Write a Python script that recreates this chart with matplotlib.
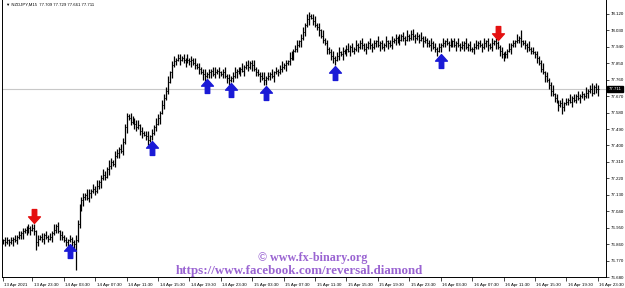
import matplotlib
matplotlib.use("Agg")
import matplotlib.pyplot as plt
import matplotlib.transforms as mtransforms
from matplotlib.path import Path
import numpy as np

# ---------------- data ----------------
closes = [
    76.88, 76.87, 76.88, 76.87, 76.88, 76.89, 76.88, 76.90, 76.91, 76.92, 76.93, 76.94, 76.93, 76.95, 76.94,
    76.95, 76.93, 76.87, 76.89, 76.90, 76.89, 76.91, 76.90, 76.89, 76.90, 76.92, 76.94, 76.96, 76.93, 76.91, 76.90,
    76.88, 76.87, 76.88, 76.89, 76.87, 76.86, 76.88, 76.97, 77.05, 77.10, 77.12, 77.13, 77.11, 77.14, 77.15, 77.16,
    77.15, 77.18, 77.20, 77.22, 77.24, 77.23, 77.27, 77.29, 77.31, 77.30, 77.34, 77.36, 77.38, 77.37, 77.42, 77.50,
    77.56, 77.55, 77.53, 77.54, 77.52, 77.50, 77.51, 77.48, 77.47, 77.46, 77.45, 77.43, 77.45, 77.47, 77.50, 77.52,
    77.55, 77.58, 77.62, 77.66, 77.70, 77.75, 77.80, 77.84, 77.86, 77.87, 77.88, 77.87, 77.88, 77.87, 77.86, 77.87,
    77.86, 77.87, 77.85, 77.84, 77.83, 77.82, 77.80, 77.79, 77.78, 77.79, 77.80, 77.81, 77.79, 77.80, 77.81, 77.80,
    77.79, 77.80, 77.78, 77.77, 77.76, 77.77, 77.78, 77.80, 77.81, 77.80, 77.82, 77.81, 77.83, 77.84, 77.83, 77.85,
    77.84, 77.82, 77.80, 77.79, 77.78, 77.77, 77.76, 77.77, 77.78, 77.79, 77.78, 77.80, 77.81, 77.80, 77.82, 77.83,
    77.84, 77.85, 77.86, 77.88, 77.90, 77.92, 77.93, 77.95, 77.97, 77.99, 78.02, 78.06, 78.09, 78.11, 78.10, 78.08,
    78.06, 78.05, 78.03, 78.00, 77.98, 77.96, 77.93, 77.91, 77.89, 77.88, 77.87, 77.89, 77.91, 77.90, 77.92, 77.91,
    77.93, 77.92, 77.94, 77.92, 77.93, 77.95, 77.94, 77.96, 77.95, 77.93, 77.94, 77.96, 77.95, 77.94, 77.96, 77.97,
    77.95, 77.96, 77.94, 77.95, 77.97, 77.96, 77.95, 77.97, 77.98, 77.99, 77.97, 77.98, 78.00, 77.99, 77.98, 78.00,
    77.99, 78.01, 78.00, 77.99, 78.00, 77.98, 77.99, 77.97, 77.98, 77.96, 77.95, 77.96, 77.94, 77.93, 77.92, 77.94,
    77.95, 77.96, 77.97, 77.96, 77.95, 77.96, 77.97, 77.95, 77.96, 77.95, 77.94, 77.95, 77.96, 77.94, 77.95, 77.93,
    77.93, 77.94, 77.95, 77.96, 77.95, 77.94, 77.96, 77.97, 77.95, 77.94, 77.96, 77.97, 77.96, 77.94, 77.92, 77.90,
    77.89, 77.90, 77.92, 77.93, 77.95, 77.96, 77.97, 77.98, 77.99, 77.97, 77.96, 77.95, 77.94, 77.93, 77.92, 77.91,
    77.90, 77.88, 77.85, 77.82, 77.80, 77.78, 77.76, 77.73, 77.70, 77.68, 77.66, 77.64, 77.62, 77.63, 77.61, 77.63,
    77.64, 77.65, 77.64, 77.66, 77.65, 77.67, 77.66, 77.67, 77.68, 77.67, 77.69, 77.70, 77.71, 77.69, 77.72, 77.709, 77.711,
]
first_open = 76.88

# wick extensions beyond the bar body, in pips (0.01)
upper_wick = [
    1, 2, 2, 1, 2, 1, 2, 1, 2, 1, 2, 1, 2, 2, 1,
    2, 2, 1, 2, 1, 2, 1, 2, 1, 2, 1, 3, 1, 2, 1, 2,
    1, 2, 1, 2, 1, 1, 3, 2, 3, 2, 2, 1, 3, 2, 1, 3,
    2, 3, 1, 2, 3, 2, 1, 3, 2, 1, 3, 2, 1, 3, 2, 2,
    2, 1, 3, 2, 1, 2, 3, 1, 2, 1, 2, 3, 1, 2, 1, 3,
    2, 1, 3, 2, 2, 3, 1, 2, 3, 1, 2, 2, 1, 2, 1, 3,
    1, 2, 1, 3, 1, 2, 1, 2, 3, 1, 2, 1, 2, 3, 1, 2,
    1, 2, 3, 1, 2, 1, 2, 3, 1, 2, 1, 3, 1, 2, 3, 1,
    2, 3, 1, 2, 1, 2, 3, 1, 2, 1, 3, 1, 2, 1, 2, 3,
    1, 2, 1, 3, 2, 1, 2, 3, 1, 2, 3, 1, 3, 2, 1, 2,
    3, 1, 2, 1, 3, 1, 2, 1, 2, 3, 1, 2, 3, 1, 2, 1,
    2, 3, 1, 2, 1, 3, 1, 2, 3, 1, 2, 1, 3, 1, 2, 1,
    3, 1, 2, 1, 3, 1, 2, 3, 1, 2, 1, 3, 1, 2, 1, 3,
    1, 2, 3, 1, 2, 1, 3, 1, 2, 1, 2, 3, 1, 2, 1, 2,
    1, 3, 1, 2, 1, 3, 1, 2, 1, 3, 1, 2, 1, 3, 1, 2,
    1, 2, 3, 1, 2, 1, 3, 1, 2, 1, 3, 1, 2, 1, 1, 2,
    1, 2, 1, 3, 1, 2, 1, 3, 1, 4, 1, 2, 1, 3, 1, 2,
    1, 2, 1, 2, 3, 1, 2, 1, 2, 3, 1, 2, 1, 2, 3, 1,
    2, 1, 3, 1, 2, 1, 3, 1, 2, 1, 3, 1, 2, 3, 1, 2, 2,
]
lower_wick = [
    2, 2, 1, 2, 1, 3, 1, 2, 1, 2, 3, 1, 2, 1, 3,
    1, 2, 4, 2, 1, 2, 3, 1, 2, 1, 3, 1, 2, 1, 3, 2,
    1, 2, 3, 1, 2, 3, 14, 1, 2, 1, 3, 2, 1, 2, 3, 1,
    2, 1, 2, 3, 1, 2, 1, 3, 2, 1, 2, 1, 3, 1, 2, 1,
    3, 1, 2, 1, 3, 2, 1, 2, 3, 1, 2, 3, 1, 2, 1, 2,
    1, 3, 1, 2, 1, 2, 1, 3, 1, 2, 1, 3, 1, 2, 3, 1,
    2, 3, 1, 2, 1, 3, 1, 3, 4, 1, 2, 3, 1, 2, 1, 3,
    1, 2, 1, 3, 3, 1, 2, 1, 3, 1, 2, 1, 3, 1, 2, 1,
    3, 1, 2, 1, 3, 1, 3, 3, 1, 2, 1, 3, 1, 2, 1, 2,
    1, 3, 1, 2, 1, 3, 1, 2, 1, 3, 1, 2, 1, 3, 1, 2,
    1, 2, 3, 1, 2, 1, 3, 1, 2, 3, 3, 1, 2, 1, 3, 1,
    2, 1, 3, 1, 2, 1, 3, 1, 2, 1, 3, 1, 2, 3, 1, 2,
    1, 3, 1, 2, 1, 3, 1, 2, 1, 3, 1, 2, 1, 2, 3, 1,
    2, 1, 2, 3, 1, 2, 1, 3, 1, 2, 1, 3, 1, 2, 3, 1,
    3, 1, 2, 1, 3, 1, 2, 1, 3, 1, 2, 1, 3, 1, 2, 1,
    2, 3, 1, 2, 1, 3, 1, 2, 3, 1, 2, 1, 3, 1, 3, 2,
    3, 1, 2, 1, 3, 1, 2, 1, 2, 3, 1, 2, 3, 1, 2, 1,
    2, 3, 1, 2, 1, 3, 1, 2, 3, 1, 2, 1, 3, 1, 4, 2,
    1, 2, 1, 3, 1, 2, 1, 3, 1, 2, 1, 3, 1, 2, 1, 2, 4,
]

buy_signals = [34, 76, 104, 116, 134, 169, 223]
sell_signals = [16, 252]

current_price = 77.711
title_text = "\u25bc NZDJPY,M15  77.709 77.729 77.661 77.711"

ytick_vals = [76.680, 76.770, 76.860, 76.950, 77.040, 77.130, 77.220, 77.310, 77.400,
              77.490, 77.580, 77.670, 77.760, 77.850, 77.940, 78.030, 78.120]
xtick_pos = [0] + [15 + 16 * k for k in range(19)]
xtick_labels = ["13 Apr 2021", "13 Apr 23:30", "14 Apr 03:30", "14 Apr 07:30", "14 Apr 11:30",
                "14 Apr 15:30", "14 Apr 19:30", "14 Apr 23:30", "15 Apr 03:30", "15 Apr 07:30",
                "15 Apr 11:30", "15 Apr 15:30", "15 Apr 19:30", "15 Apr 23:30", "16 Apr 03:30",
                "16 Apr 07:30", "16 Apr 11:30", "16 Apr 15:30", "16 Apr 19:30", "16 Apr 23:30"]

watermark1 = "\u00a9 www.fx-binary.org"
watermark2 = "https://www.facebook.com/reversal.diamond"

# ---------------- derived OHLC ----------------
c = np.array(closes)
o = np.concatenate([[first_open], c[:-1]])
hi = np.maximum(o, c) + np.array(upper_wick) * 0.01
lo = np.minimum(o, c) - np.array(lower_wick) * 0.01
idx = np.arange(len(c))

# ---------------- figure ----------------
W, H = 625, 288
fig = plt.figure(figsize=(W / 100, H / 100), dpi=100)
fig.patch.set_facecolor("white")
ax = fig.add_axes([2 / W, 1 - 277 / H, 604 / W, 277 / H])
ax.set_xlim(-0.5, 307.2)
ax.set_ylim(76.680, 78.1966)

ax.axhline(current_price, color="#c8c8c8", lw=0.8, zorder=1)

ax.vlines(idx, lo, hi, color="black", lw=0.9, zorder=3)
ax.hlines(o, idx - 0.5, idx, color="black", lw=0.6, zorder=3)
ax.hlines(c, idx, idx + 0.5, color="black", lw=0.6, zorder=3)

# arrow marker
up_arrow = Path([(0, 1), (-0.85, 0.05), (-0.32, 0.05), (-0.32, -1), (0.32, -1),
                 (0.32, 0.05), (0.85, 0.05), (0, 1)],
                [Path.MOVETO] + [Path.LINETO] * 6 + [Path.CLOSEPOLY])
down_arrow = Path([(x, -y) for x, y in up_arrow.vertices], up_arrow.codes)

bs = np.array(buy_signals)
ss = np.array(sell_signals)
ax.plot(bs, lo[bs] - 0.045, ls="none", marker=up_arrow, ms=10, color="#1a1ad6",
        mec="#1a1ad6", zorder=4)
ax.plot(ss, hi[ss] + 0.045, ls="none", marker=down_arrow, ms=10, color="#e41010",
        mec="#e41010", zorder=4)

# axes styling
for s in ["left", "bottom", "right"]:
    ax.spines[s].set_color("black")
    ax.spines[s].set_linewidth(0.7)
ax.spines["top"].set_visible(False)

ax.yaxis.tick_right()
ax.set_yticks(ytick_vals)
ax.set_yticklabels([f"{v:.3f}" for v in ytick_vals], fontsize=3.2, family="Liberation Sans")
ax.tick_params(axis="y", direction="out", length=2, width=0.5, pad=1.5, colors="black")

ax.set_xticks(xtick_pos)
ax.set_xticklabels(xtick_labels, fontsize=3.2, family="Liberation Sans", ha="left")
ax.tick_params(axis="x", direction="out", length=3, width=0.5, pad=1, colors="black")
for lbl in ax.get_xticklabels():
    lbl.set_transform(lbl.get_transform() + mtransforms.ScaledTranslation(1.5 / 100, 0, fig.dpi_scale_trans))

# current price box
trans = mtransforms.blended_transform_factory(ax.transAxes, ax.transData)
ax.text(1.004, current_price, f"{current_price:.3f}", transform=trans, fontsize=3.2,
        family="Liberation Sans", color="white", va="center", ha="left",
        bbox=dict(facecolor="black", edgecolor="black", pad=0.8), clip_on=False, zorder=6)

# title
ax.text(4 / 604, 1 - 3 / 277, title_text, transform=ax.transAxes, fontsize=3.1,
        family=["Liberation Sans", "DejaVu Sans"], va="top", ha="left")

# watermark
fig.text(313 / W, 1 - 258 / H, watermark1, fontsize=8.7, family="Liberation Serif",
         weight="bold", color="#9a64d2", ha="center", va="center")
fig.text(299 / W, 1 - 271 / H, watermark2, fontsize=9.4, family="Liberation Serif",
         weight="bold", color="#9a64d2", ha="center", va="center")

fig.savefig("out.png", dpi=100)
